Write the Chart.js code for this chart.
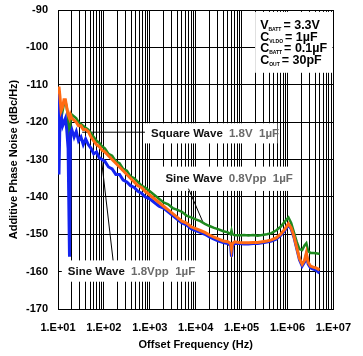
<!DOCTYPE html>
<html>
<head>
<meta charset="utf-8">
<script src="https://cdn.jsdelivr.net/npm/chart.js@4/dist/chart.umd.min.js"></script>
<style>
html,body{margin:0;padding:0;background:#fff;}
#wrap{width:363px;height:356px;}
</style>
</head>
<body>
<div id="wrap"><canvas id="c" width="363" height="356"></canvas></div>
<script>
// ---------- data ----------
const freqHz = [10,10.5,11,11.7,12.6,13.5,14.5,15.5,16.6,17.8,18.6,20,
  22.4,25,28,31.6,35.5,40,
  45.7,52.5,60,69,79,91,105,
  126,151,182,219,263,316,380,457,550,660,794,
  1000,1259,1585,1995,2512,3162,3981,5012,6310,7943,
  10000,12589,15849,19953,25119,31623,39811,50119,
  57544,60256,63096,70795,
  89125,112200,141250,177830,223870,281840,354810,446680,562340,707950,891250,
  1047100,1202300,1380400,1584900,1819700,2089300,2344200,2570400,2818400,3162300,3630800,4168700,4786300,5011900];

const squareWave18V = [-113,-115,-118,-119,-117,-115,-114.5,-116,-119,-131,-120,-118,
  -118.5,-119,-120,-120.5,-121,-121.5,
  -122,-123,-124,-125,-125.5,-126.5,-127,
  -128.5,-129,-130.5,-131,-132.5,-133,-134.5,-135,-136,-137,-137.5,
  -138.5,-139.5,-140.5,-141.5,-142,-143,-143.5,-144,-145,-145.5,
  -146,-146.5,-147.2,-147.8,-148.3,-148.7,-149.2,-149.5,
  -150,-149,-150,-150.3,
  -150.3,-150.2,-150.3,-150.2,-150.4,-150.2,-150,-149.7,-149,-148,-146.5,
  -145.5,-147,-149.5,-152,-154,-154.2,-153,-152.4,-154.5,-155,-155,-155.1,-155.2,-155.2];

const sineWave08Vpp = [-112,-110.5,-113,-117,-116,-114,-114,-116,-118,-119,-118,-119,
  -119.5,-120,-121,-121,-122,-122,
  -122.5,-124,-125,-126,-126.5,-127.5,-128,
  -129,-130,-131,-132,-133,-134,-135,-136,-137,-137.5,-138.5,
  -139.5,-140.5,-141.5,-142.5,-143.5,-144.5,-145.5,-146.5,-147,-148,
  -148.5,-149,-149.5,-150.2,-150.8,-151.3,-151.8,-152,
  -152.5,-154,-152.5,-152,
  -152.2,-152.3,-152.3,-152.2,-152.2,-152,-151.8,-151.5,-151,-150,-148.5,
  -147.2,-148.3,-150.5,-153.5,-156.5,-158,-157,-155,-157.5,-158.5,-158.8,-159,-159.4,-159.5];

const sineWave18Vpp = [-112,-134,-120,-118,-121,-120,-119,-122,-127,-156,-123,-122,
  -124,-122.5,-125,-124,-126,-124.5,
  -126,-127,-128.5,-128,-129.5,-130,-130.5,
  -132,-132.5,-134,-134,-135.5,-136,-137,-137.5,-138.5,-139,-140,
  -140.5,-141.5,-142.5,-143,-144,-145,-146,-147,-147.5,-148.5,
  -149,-149.5,-150,-150.7,-151.3,-151.8,-152.2,-152.5,
  -153,-156,-153,-152.5,
  -152.5,-152.6,-152.6,-152.5,-152.5,-152.3,-152.1,-151.8,-151.3,-150.3,-148.8,
  -147.5,-148.6,-150.8,-153.8,-156.8,-158.5,-157.5,-155.5,-158,-159,-159.3,-159.6,-160.2,-160.3];

const xTickLabels = ['1.E+01','1.E+02','1.E+03','1.E+04','1.E+05','1.E+06','1.E+07'];
const yTickValues = [-170,-160,-150,-140,-130,-120,-110,-100,-90];
const seriesNames = ['Square Wave 1.8V 1µF','Sine Wave 0.8Vpp 1µF','Sine Wave 1.8Vpp 1µF'];

// annotation boxes (data coordinates)
const labelBoxes = [
  {x0:785, x1:601000, y0:-120.3, y1:-125.7, bold:'Square Wave', gray:'1.8V  1µF'},
  {x0:1622, x1:1660000, y0:-131.9, y1:-138.4, bold:'Sine Wave', gray:'0.8Vpp  1µF'},
  {x0:12.1, x1:18330, y0:-157, y1:-162.7, bold:'Sine Wave', gray:'1.8Vpp  1µF'}
];
const leaderLines = [
  [[33.6,-122.7],[785,-122.7]],
  [[6950,-137.8],[14390,-146.8]],
  [[88.5,-130],[158.5,-157]]
];
const condBox = {x0:197000, x1:1e7, y0:-90.5, y1:-106.8};
const condLines = [['V','BATT','= 3.3V'],['C','VLDO','= 1µF'],['C','BATT','= 0.1µF'],['C','OUT','= 30pF']];

// ---------- chart ----------
const FONT = '"Liberation Sans", Arial, sans-serif';
function pts(vals){ return freqHz.map((f,i)=>({x:f,y:vals[i]})); }

const overlay = {
  id:'overlay',
  beforeDatasetsDraw(chart){
    const ctx = chart.ctx, xs = chart.scales.x, ys = chart.scales.y;
    ctx.save();
    labelBoxes.forEach(b=>{
      const l = xs.getPixelForValue(b.x0), r = xs.getPixelForValue(b.x1);
      const t = ys.getPixelForValue(b.y0), bt = ys.getPixelForValue(b.y1);
      ctx.fillStyle='#fff';
      ctx.fillRect(l,t,r-l,bt-t);
      ctx.textBaseline='middle';
      ctx.font='bold 11.5px '+FONT;
      ctx.fillStyle='#111';
      const cy=(t+bt)/2+0.5;
      ctx.fillText(b.bold,l+6,cy);
      const w=ctx.measureText(b.bold+' ').width;
      ctx.fillStyle='#6a6a6a';
      ctx.fillText(b.gray,l+6+w+3,cy);
    });
    ctx.strokeStyle='#000'; ctx.lineWidth=1;
    leaderLines.forEach(L=>{
      ctx.beginPath();
      ctx.moveTo(xs.getPixelForValue(L[0][0]),ys.getPixelForValue(L[0][1]));
      ctx.lineTo(xs.getPixelForValue(L[1][0]),ys.getPixelForValue(L[1][1]));
      ctx.stroke();
    });
    const l = xs.getPixelForValue(condBox.x0), r = xs.getPixelForValue(condBox.x1);
    const t = ys.getPixelForValue(condBox.y0), bt = ys.getPixelForValue(condBox.y1);
    ctx.fillStyle='#fff';
    ctx.fillRect(l,t,r-l-1,bt-t);
    ctx.fillStyle='#000';
    ctx.textBaseline='alphabetic';
    condLines.forEach((c,i)=>{
      const by = t+17+i*11.8;
      let x = l+5;
      ctx.font='bold 12.5px '+FONT;
      ctx.fillText(c[0],x,by);
      x += ctx.measureText(c[0]).width;
      ctx.font='bold 5px '+FONT;
      ctx.fillText(c[1],x,by+2);
      x += ctx.measureText(c[1]).width + 2;
      ctx.font='bold 12.5px '+FONT;
      ctx.fillText(c[2],x,by);
    });
    ctx.restore();
  }
};

new Chart(document.getElementById('c'), {
  type:'line',
  data:{
    datasets:[
      {label:seriesNames[1], data:pts(sineWave08Vpp), borderColor:'#ff6a13', borderWidth:3, pointRadius:0, tension:0},
      {label:seriesNames[2], data:pts(sineWave18Vpp), borderColor:'#1424f0', borderWidth:3, pointRadius:0, tension:0},
      {label:seriesNames[0], data:pts(squareWave18V), borderColor:'#1f8a1f', borderWidth:2.5, pointRadius:0, tension:0}
    ]
  },
  options:{
    responsive:false,
    animation:false,
    devicePixelRatio:1,
    layout:{padding:{top:10,right:20,left:0,bottom:0}},
    plugins:{legend:{display:false},tooltip:{enabled:false}},
    scales:{
      x:{
        type:'logarithmic', min:10, max:1e7,
        afterBuildTicks(s){
          const t=[];
          for(let e=1;e<7;e++){ for(let m=1;m<10;m++){ t.push({value:m*Math.pow(10,e)}); } }
          t.push({value:1e7});
          s.ticks=t;
        },
        afterFit(s){ s.height=47; },
        ticks:{
          autoSkip:false, maxRotation:0, padding:12, color:'#000',
          font:{family:FONT, size:11, weight:'bold'},
          callback(v){
            const e=Math.log10(v);
            if(Math.abs(e-Math.round(e))<1e-9) return xTickLabels[Math.round(e)-1];
            return '';
          }
        },
        grid:{color:'#000', lineWidth:1, drawTicks:false},
        border:{color:'#000', width:1},
        title:{display:true, text:'Offset Frequency (Hz)', color:'#000', font:{family:FONT, size:11, weight:'bold'}, padding:{top:0,bottom:4}}
      },
      y:{
        min:-170, max:-90,
        afterBuildTicks(s){ s.ticks=yTickValues.map(v=>({value:v})); },
        afterFit(s){ s.width=58; s.paddingTop=0; s.paddingBottom=0; },
        ticks:{padding:10, color:'#000', font:{family:FONT, size:11, weight:'bold'}},
        grid:{color:'#000', lineWidth:1, drawTicks:false},
        border:{color:'#000', width:1},
        title:{display:true, text:'Additive Phase Noise (dBc/Hz)', color:'#000', font:{family:FONT, size:11, weight:'bold'}, padding:{top:7,bottom:0}}
      }
    }
  },
  plugins:[overlay]
});
</script>
</body>
</html>
